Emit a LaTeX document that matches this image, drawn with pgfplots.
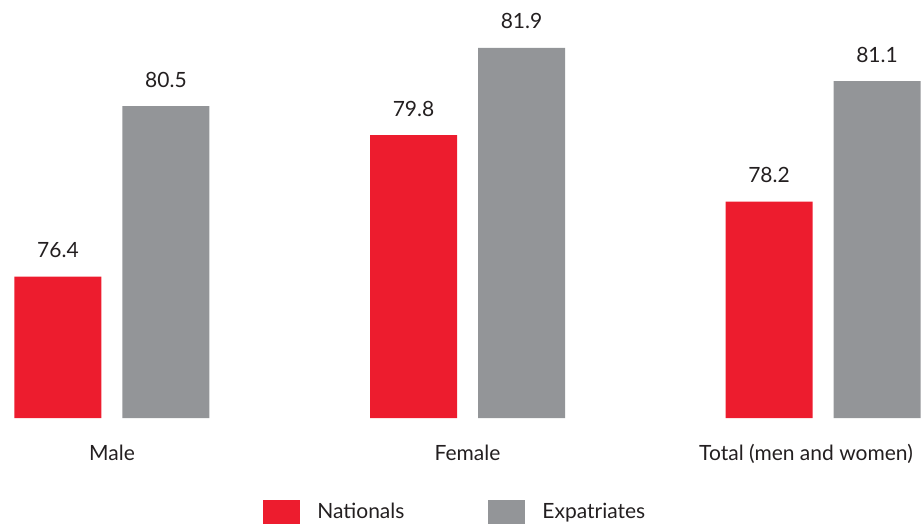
\documentclass[border=0pt]{standalone}
\usepackage{fontspec}
\setmainfont{Lato}
\usepackage{pgfplots}
\pgfplotsset{compat=1.18}
\definecolor{natred}{HTML}{ED1C2E}
\definecolor{expgrey}{HTML}{939598}
\definecolor{txt}{HTML}{231F20}
\begin{document}
\begin{tikzpicture}
\begin{axis}[
    scale only axis,
    width=462pt, height=209pt,
    anchor=south west, at={(0,0)},
    ybar=10.5pt, bar width=43.5pt,
    xmin=-0.315, xmax=2.284,
    ymin=73, ymax=83.05,
    axis lines*=left,
    axis line style={draw=none},
    hide y axis,
    xtick=data,
    xticklabels={Male,Female,{\hspace{-17pt}Total (men and women)}},
    major tick length=0pt,
    xticklabel style={anchor=base, yshift=-21pt, text=txt},
    clip=false,
    font=\fontsize{10.5}{12}\selectfont,
    /pgf/number format/assume math mode=true,
    nodes near coords,
    every node near coord/.append style={text=txt, anchor=base, yshift=9.5pt,
        /pgf/number format/.cd, fixed, fixed zerofill, precision=1, assume math mode=true},
    legend columns=2,
    legend style={draw=none, fill=none, at={(0.2846,-0.2249)}, anchor=west, inner sep=0pt,
        text=txt,
        /tikz/every odd column/.style={column sep=6.5pt},
        /tikz/every even column/.style={column sep=40pt}},
    legend image code/.code={\fill[#1] (0pt,-6pt) rectangle (18.5pt,6pt);},
]
\addplot[fill=natred, draw=none] coordinates {(0,76.4) (1,79.8) (2,78.2)};
\addplot[fill=expgrey, draw=none] coordinates {(0,80.5) (1,81.9) (2,81.1)};
\legend{Nationals,Expatriates}
\end{axis}
\pgfresetboundingbox
\path (0,-54.5pt) rectangle (462pt,209pt);
\end{tikzpicture}
\end{document}
